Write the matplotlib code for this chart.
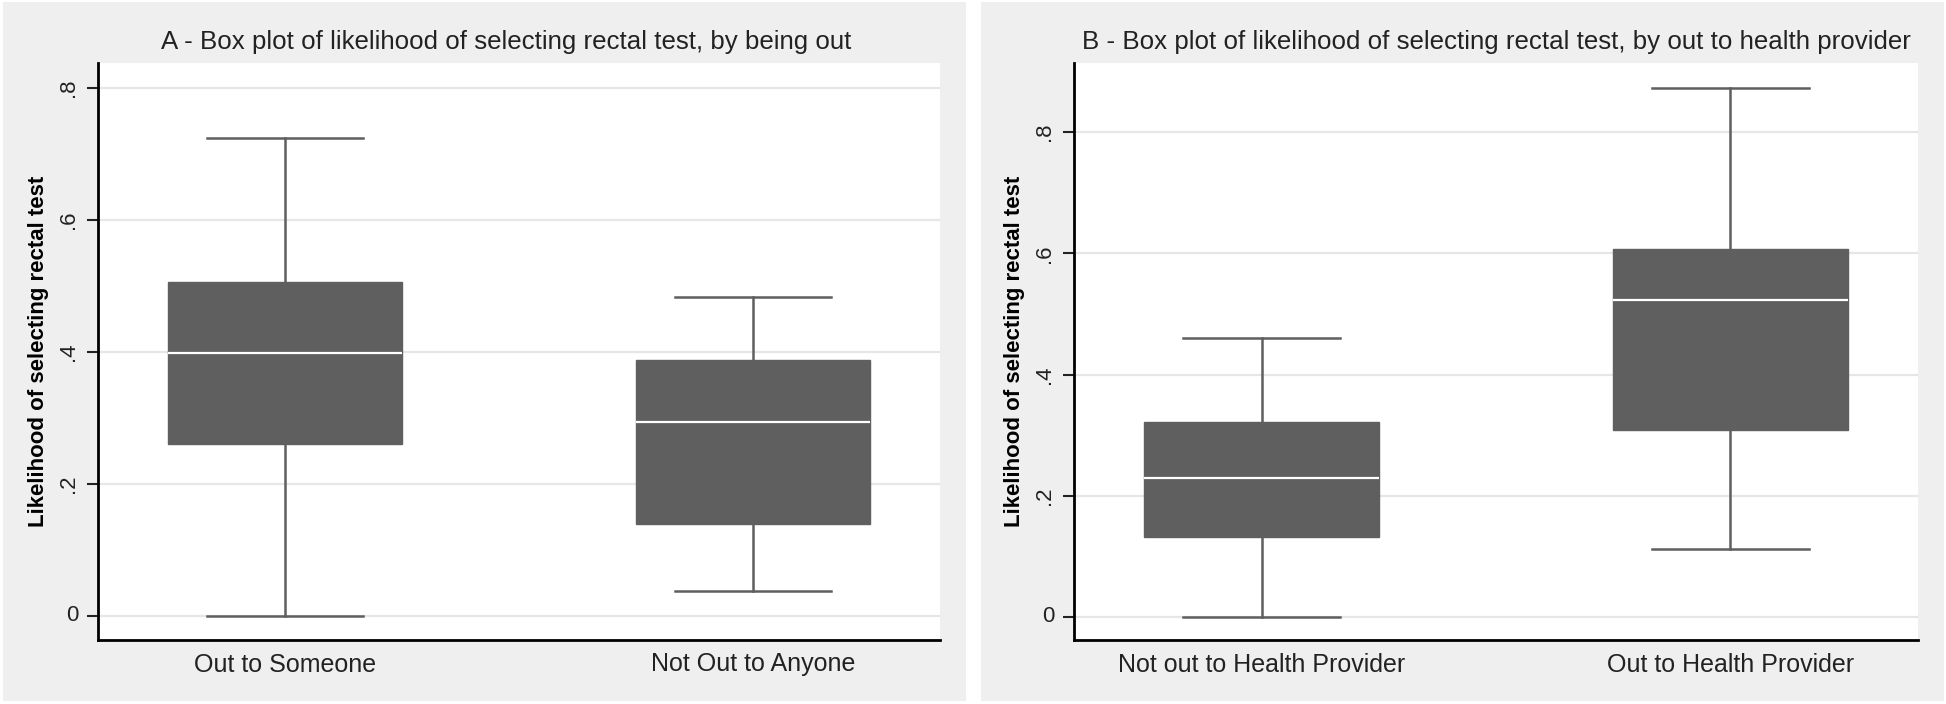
import matplotlib
matplotlib.use('Agg')
import matplotlib.pyplot as plt
from matplotlib.patches import Rectangle

# Box plot summaries (min, q1, median, q3, max)
labels_a = ['Out to Someone', 'Not Out to Anyone']
whislo_a = [0.0, 0.038]
q1_a = [0.260, 0.140]
med_a = [0.399, 0.294]
q3_a = [0.506, 0.388]
whishi_a = [0.725, 0.484]

labels_b = ['Not out to Health Provider', 'Out to Health Provider']
whislo_b = [0.0, 0.112]
q1_b = [0.132, 0.309]
med_b = [0.229, 0.523]
q3_b = [0.321, 0.607]
whishi_b = [0.461, 0.872]

yticks = [0, 0.2, 0.4, 0.6, 0.8]
ytick_labels = ['0', '.2', '.4', '.6', '.8']

titles = ['A - Box plot of likelihood of selecting rectal test, by being out',
          'B - Box plot of likelihood of selecting rectal test, by out to health provider']
ylabel = 'Likelihood of selecting rectal test'

BG = '#efefef'
BOX = '#5f5f5f'
GRID = '#e6e6e6'
FONT = ['Liberation Sans', 'DejaVu Sans']

W, H = 1946, 704
fig = plt.figure(figsize=(W / 100, H / 100), dpi=100)
fig.patch.set_facecolor('white')

# gray panel backgrounds (pixel coords -> figure fraction)
for x0, x1 in [(3, 966), (981, 1944)]:
    fig.patches.append(Rectangle((x0 / W, 1 - 701 / H), (x1 - x0) / W, (701 - 2) / H,
                                 transform=fig.transFigure, facecolor=BG,
                                 edgecolor='none', zorder=-10))


def make_stats(labels, lo, q1, med, q3, hi):
    return [dict(label=l, whislo=a, q1=b, med=c, q3=d, whishi=e)
            for l, a, b, c, d, e in zip(labels, lo, q1, med, q3, hi)]


panels = [
    (make_stats(labels_a, whislo_a, q1_a, med_a, q3_a, whishi_a), (98, 940), (-0.0364, 0.838)),
    (make_stats(labels_b, whislo_b, q1_b, med_b, q3_b, whishi_b), (1074, 1918), (-0.038, 0.914)),
]

for i, (stats, (px0, px1), ylim) in enumerate(panels):
    top, bot = 63, 640
    ax = fig.add_axes([px0 / W, 1 - bot / H, (px1 - px0) / W, (bot - top) / H])
    ax.set_facecolor('white')
    ax.bxp(stats, positions=[1, 2], widths=0.5, capwidths=0.335,
           showfliers=False, patch_artist=True,
           boxprops=dict(facecolor=BOX, edgecolor=BOX, linewidth=1),
           medianprops=dict(color='white', linewidth=1.6),
           whiskerprops=dict(color=BOX, linewidth=1.8),
           capprops=dict(color=BOX, linewidth=1.8))
    ax.set_xlim(0.6, 2.4)
    ax.set_ylim(*ylim)
    ax.set_yticks(yticks)
    ax.set_yticklabels(ytick_labels, rotation=90, va='center', family=FONT, fontsize=16)
    for t in ax.get_yticklabels():
        if t.get_text() == '0':
            t.set_rotation(0)
    ax.set_xticks([1, 2])
    ax.set_xticklabels([s['label'] for s in stats], family=FONT, fontsize=18)
    ax.tick_params(axis='x', length=0, pad=9, colors='#222222')
    ax.tick_params(axis='y', length=8, width=1.5, pad=6, colors='#222222')
    ax.yaxis.grid(True, color=GRID, linewidth=1.6)
    ax.set_axisbelow(True)
    for s in ['top', 'right']:
        ax.spines[s].set_visible(False)
    for s in ['left', 'bottom']:
        ax.spines[s].set_linewidth(2)
        ax.spines[s].set_color('black')
    ax.set_ylabel(ylabel, fontsize=16, fontweight='bold', labelpad=6, family=FONT)
    tx = 0.485 if i == 0 else 0.5
    ax.set_title(titles[i], family=FONT, fontsize=18.6, pad=10, color='#222222', x=tx)

fig.savefig('out.png', dpi=100, facecolor=fig.get_facecolor())
